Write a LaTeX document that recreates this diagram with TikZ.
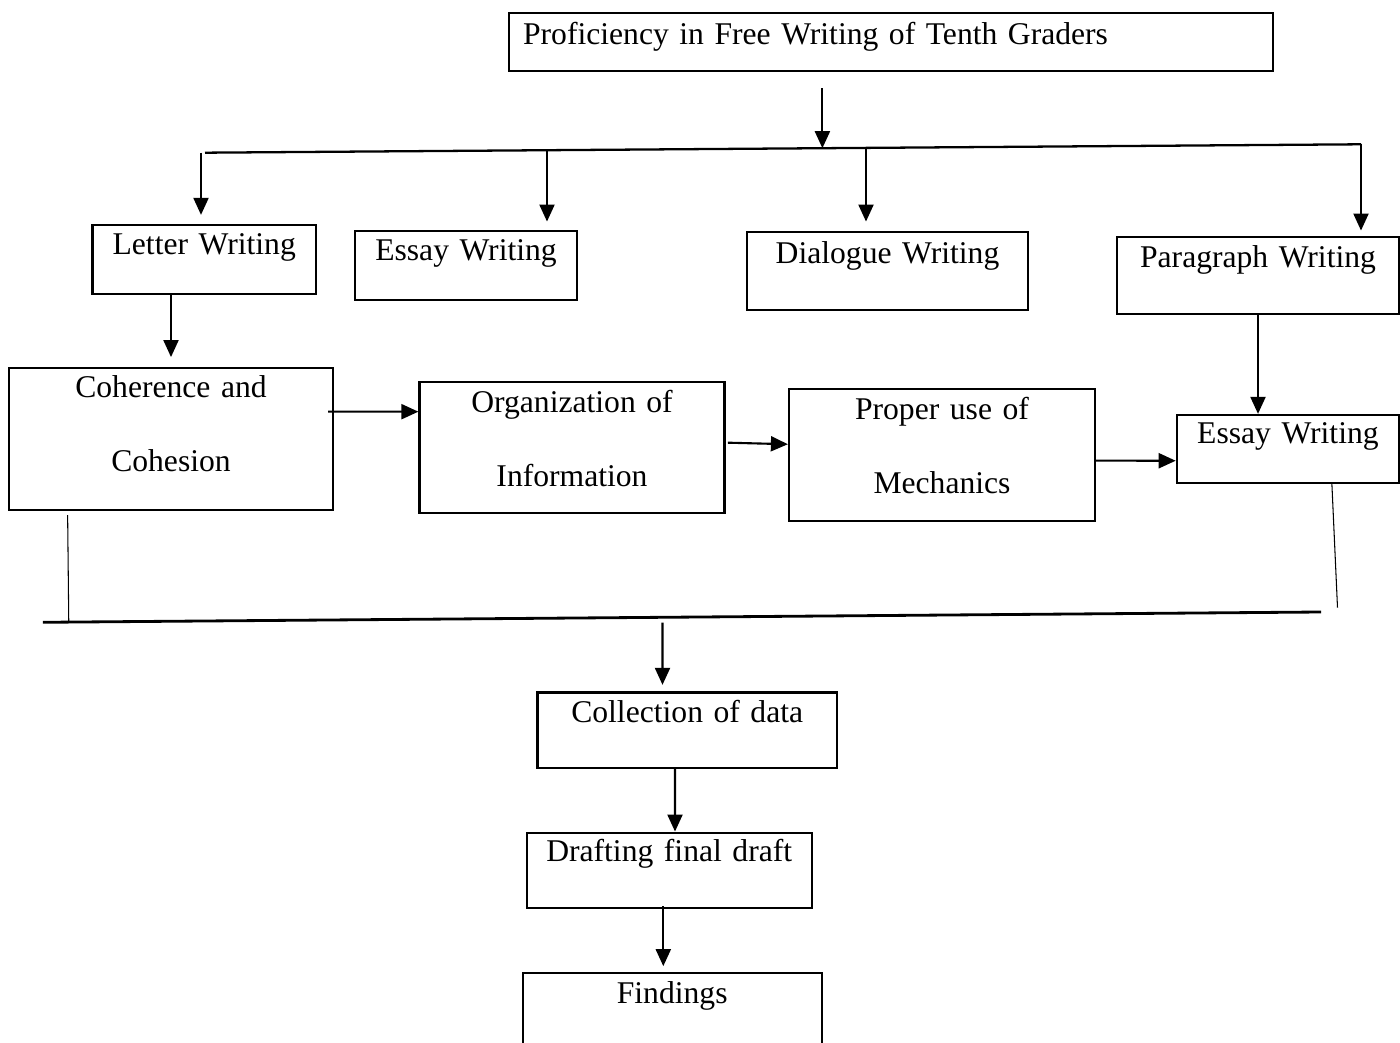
\documentclass[tikz,border=0pt]{standalone}
\usepackage{fontspec}
\setmainfont{Liberation Serif}
\usetikzlibrary{arrows.meta,calc}
\begin{document}
\begin{tikzpicture}[x=0.02cm,y=-0.02cm,
  box/.style={draw,line width=1.3pt,inner sep=0pt,anchor=base,align=center,
    font=\fontsize{18}{42}\selectfont},
  arr/.style={-{Triangle[length=0.34cm,width=0.3cm]},line width=1.2pt},
  thinline/.style={line width=0.6pt},
  barline/.style={line width=1.3pt}]
\useasboundingbox (0,0) rectangle (1400,1043);

% boxes
\node[box,align=left,inner xsep=0.28cm,text width=14.72cm,text height=0.646cm,text depth=0.514cm] (title) at (891,45) {Proficiency in Free Writing of Tenth Graders};
\node[box,text width=4.47cm,text height=0.6cm,text depth=0.78cm] (letter) at (204.2,255) {Letter Writing};
\node[box,text width=4.44cm,text height=0.6cm,text depth=0.786cm] (essay) at (466,260.7) {Essay Writing};
\node[box,text width=5.62cm,text height=0.632cm,text depth=0.934cm] (dialog) at (887.5,263.3) {Dialogue Writing};
\node[box,text width=5.64cm,text height=0.612cm,text depth=0.934cm] (para) at (1258,267.3) {Paragraph Writing};
\node[box,text width=6.48cm,text height=0.6cm,text depth=2.246cm] (coh) at (171,397.7) {Coherence and\\Cohesion};
\node[box,text width=6.1cm,text height=0.62cm,text depth=2.0cm] (org) at (572,412.7) {Organization of\\Information};
\node[box,text width=6.12cm,text height=0.614cm,text depth=2.02cm] (prop) at (942,420) {Proper use of\\Mechanics};
\node[box,text width=4.444cm,text height=0.58cm,text depth=0.774cm] (ess2) at (1287.9,444) {Essay Writing};
\node[box,text width=5.99cm,text height=0.604cm,text depth=0.9cm] (coll) at (687.2,722.7) {Collection of data};
\node[box,text width=5.7cm,text height=0.58cm,text depth=0.92cm] (draft) at (669.2,861.7) {Drafting final draft};
\node[box,text width=5.98cm,text height=0.612cm,text depth=1.0cm] (find) at (672.2,1003.3) {Findings};

% top bar
\coordinate (barL) at (205,152.7);
\coordinate (barR) at (1361,144.3);
\draw[barline] (barL) -- (barR);
\coordinate (tapT) at (822.4,148.2);
\draw[arr,shorten <=0.33cm] (title.south -| tapT) -- (tapT);
\coordinate (tapA) at (201,152.7);
\coordinate (tapB) at (547,150.2);
\coordinate (tapC) at (866,147.9);
\coordinate (tapD) at (1361,144.3);
\foreach \t/\n/\g in {tapA/letter/0.18,tapB/essay/0.16,tapC/dialog/0.18,tapD/para/0.1}
  \draw[arr,shorten >=\g cm] (\t) -- (\t |- \n.north);

\draw[arr,shorten >=0.19cm] (coh.north |- letter.south) -- (coh.north);
\draw[arr] (para.south) -- (para.south |- ess2.north);

% middle row
\draw[arr] ($(coh.east)+(-6,-27.2)$) -- ($(org.west)+(0,-35.5)$);
\draw[arr] ($(org.east)+(2.3,-4.5)$) -- ($(prop.west)+(0,-10.9)$);
\draw[arr] ($(prop.east)+(-2,5.5)$) -- ($(ess2.west)+(0,11.9)$);

% bottom bar
\coordinate (joinL) at (42.9,622.3);
\coordinate (joinR) at (1321,612);
\draw[barline,line width=1.6pt] (joinL) -- (joinR);
\coordinate (dropL) at (68.75,621);
\coordinate (dropR) at (1337.5,607.7);
\draw[thinline] ($(coh.south west)+(59.75,4)$) -- (dropL);
\draw[thinline] ($(ess2.south west)+(156.2,0)$) -- (dropR);
\coordinate (tapE) at (662.5,622.7);
\draw[arr] (tapE) -- ($(coll.north)+(-24.7,-6.5)$);

\draw[arr] ($(coll.south)+(-12.2,0)$) -- ($(draft.north)+(5.8,0)$);
\draw[arr] ($(draft.south)+(-5.9,-2.7)$) -- ($(find.north)+(-8.9,-5.4)$);
\end{tikzpicture}
\end{document}
